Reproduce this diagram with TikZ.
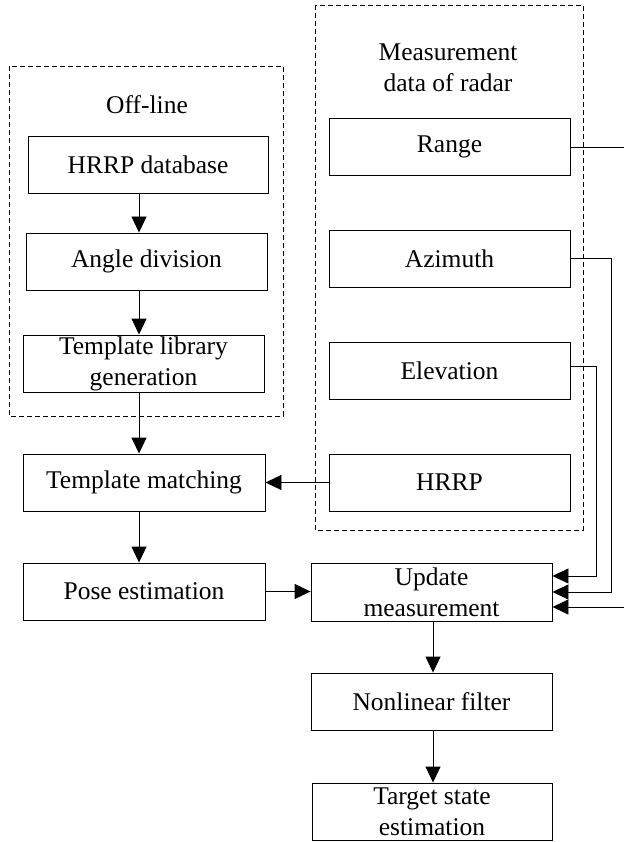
\documentclass[tikz,border=0pt]{standalone}
\usepackage{fontspec}
\setmainfont{Liberation Serif}
\usetikzlibrary{arrows.meta,calc}
\begin{document}
\begin{tikzpicture}[x=1pt,y=-1pt,
  box/.style={draw,line width=0.9pt,minimum height=57pt,inner sep=0pt,align=center,font=\fontsize{25.5}{31}\selectfont},
  lbl/.style={inner sep=0pt,align=center,font=\fontsize{25.5}{31}\selectfont},
  grp/.style={draw,line width=0.9pt,dash pattern=on 5pt off 3pt},
  arr/.style={line width=0.9pt,-{Triangle[length=16pt,width=15pt]}},
  ln/.style={line width=0.9pt}]
\useasboundingbox (0,0) rectangle (624,842);
% group frames
\draw[grp] (9,66) rectangle (283,416);
\draw[grp] (315,5) rectangle (583,530);
\node[lbl] (offl) at (147,105) {Off-line};
\node[lbl] (meas) at (448,68) {Measurement\\data of radar};
% left column
\node[box,minimum width=240pt] (hdb) at (148,164.5) {HRRP database};
\node[box,minimum width=241pt] (ang) at (146.5,261.5) {Angle division};
\node[box,minimum width=241pt] (tlg) at (143.5,363.5) {Template library\\generation};
\node[box,minimum width=242pt] (tm) at (144,482.5) {Template matching};
\node[box,minimum width=242pt] (pe) at (144,591.5) {Pose estimation};
% measurement column
\node[box,minimum width=241pt] (rng) at (449.5,146.5) {Range};
\node[box,minimum width=241pt] (azi) at (449.5,258.5) {Azimuth};
\node[box,minimum width=241pt] (ele) at (449.5,370.5) {Elevation};
\node[box,minimum width=241pt] (hrrp) at (449.5,482.5) {HRRP};
% bottom column
\node[box,minimum width=241pt,minimum height=58pt] (upd) at (431.5,592) {Update\\measurement};
\node[box,minimum width=241pt] (nlf) at (431.5,701.5) {Nonlinear filter};
\node[box,minimum width=240pt] (tse) at (432,811.5) {Target state\\estimation};
% helper coordinates
\coordinate (col) at (139,0);
\coordinate (col2) at (433,0);
\coordinate (azx) at (611,0);
\coordinate (elx) at (596,0);
\coordinate (rout) at (624,147);
\coordinate (rin) at (624,607);
% left arrows
\draw[arr] (hdb.south -| col) -- (ang.north -| col);
\draw[arr] (ang.south -| col) -- (tlg.north -| col);
\draw[arr] (tlg.south -| col) -- (tm.north -| col);
\draw[arr] (tm.south -| col) -- (pe.north -| col);
\draw[arr] (hrrp.west) -- (tm.east);
\draw[arr] (pe.east) -- (pe.east -| upd.west);
\draw[arr] (upd.south -| col2) -- (nlf.north -| col2);
\draw[arr] (nlf.south -| col2) -- (tse.north -| col2);
% measurement feeds
\draw[ln] (rng.east |- rout) -- (rout);
\draw[arr] (azi.east |- 0,258) -| (azx |- 0,592) -- ($(upd.east)+(0,0)$);
\draw[arr] (ele.east |- 0,366) -| (elx |- 0,576) -- ($(upd.east)+(0,-16)$);
\draw[arr] (rin) -- ($(upd.east)+(0,15)$);
\end{tikzpicture}
\end{document}
